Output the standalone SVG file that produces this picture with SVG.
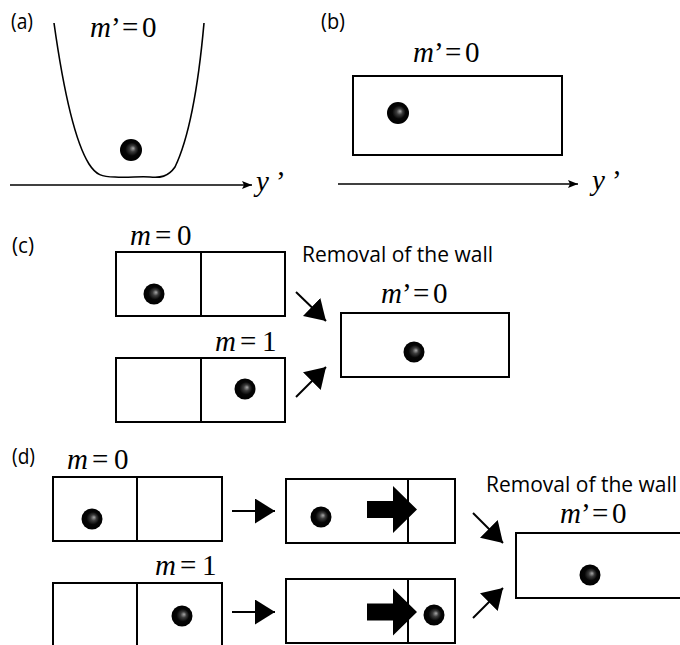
<svg xmlns="http://www.w3.org/2000/svg" width="680" height="645" viewBox="0 0 680 645">
<style>
.lbl{font-family:"Open Sans","Liberation Sans",sans-serif;font-size:21px;fill:#000}
.cap{font-family:"Open Sans","Liberation Sans",sans-serif;font-size:22px;fill:#000}
.cap2{font-family:"Open Sans","Liberation Sans",sans-serif;font-size:21px;fill:#000}
.math{font-family:"Liberation Serif","Times New Roman",serif;font-size:29px;fill:#000}
.it{font-style:italic}
.box{fill:none;stroke:#000;stroke-width:2}
.wall{stroke:#000;stroke-width:2}
.axis{stroke:#000;stroke-width:1.3;fill:none}
.conn{stroke:#000;stroke-width:2;fill:none}
.curve{stroke:#000;stroke-width:1.6;fill:none}
</style>
<defs>
<radialGradient id="ballg" cx="0.5" cy="0.5" r="0.5" fx="0.6" fy="0.42">
<stop offset="0" stop-color="#a8a8a8"/>
<stop offset="0.28" stop-color="#3c3c3c"/>
<stop offset="0.6" stop-color="#060606"/>
<stop offset="1" stop-color="#000"/>
</radialGradient>
<marker id="axhead" markerUnits="userSpaceOnUse" markerWidth="12" markerHeight="10" refX="10" refY="4" orient="auto">
<path d="M0,0 L10,4 L0,8 L2,4 z" fill="#000"/>
</marker>
<marker id="head" markerUnits="userSpaceOnUse" markerWidth="22" markerHeight="26" refX="20" refY="12.5" orient="auto">
<path d="M0,0 L20,12.5 L0,25 z" fill="#000"/>
</marker>
<symbol id="fat" overflow="visible">
<polygon points="367,501 393,501 393,486 417,509.5 393,533 393,518 367,518" fill="#000"/>
</symbol>
</defs>

<g id="panel-a">
<text class="lbl" x="11" y="29" textLength="22" lengthAdjust="spacingAndGlyphs">(a)</text>
<text class="math" y="37"><tspan class="it" x="90">m</tspan><tspan x="111">’</tspan><tspan x="122">=</tspan><tspan x="142">0</tspan></text>
<path class="curve" d="M54,23 C62,80 74,140 89,164 C96,175 102,177 115,177 C128,178 140,176 150,177 C160,178 168,177 175,167 C188,140 198,90 204,23"/>
<circle cx="131" cy="150" r="11" fill="url(#ballg)"/>
<line class="axis" x1="10" y1="185" x2="252" y2="185" marker-end="url(#axhead)"/>
<text class="math" y="191"><tspan class="it" x="256">y</tspan><tspan x="276">’</tspan></text>
</g>

<g id="panel-b">
<text class="lbl" x="321" y="29" textLength="24" lengthAdjust="spacingAndGlyphs">(b)</text>
<text class="math" y="62"><tspan class="it" x="413">m</tspan><tspan x="434">’</tspan><tspan x="445">=</tspan><tspan x="465">0</tspan></text>
<rect class="box" x="353" y="76" width="209" height="79"/>
<circle cx="398" cy="113" r="11" fill="url(#ballg)"/>
<line class="axis" x1="338" y1="184" x2="578" y2="184" marker-end="url(#axhead)"/>
<text class="math" y="190"><tspan class="it" x="592">y</tspan><tspan x="612">’</tspan></text>
</g>

<g id="panel-c">
<text class="lbl" x="12" y="253" textLength="22" lengthAdjust="spacingAndGlyphs">(c)</text>
<g id="c-m0">
<text class="math" y="244.5"><tspan class="it" x="130">m</tspan><tspan x="155">=</tspan><tspan x="177">0</tspan></text>
<rect class="box" x="116" y="252" width="169" height="64"/>
<line class="wall" x1="201" y1="252" x2="201" y2="316"/>
<circle cx="154" cy="294" r="10.5" fill="url(#ballg)"/>
</g>
<g id="c-m1">
<text class="math" y="351"><tspan class="it" x="215">m</tspan><tspan x="240">=</tspan><tspan x="262">1</tspan></text>
<rect class="box" x="116" y="358" width="169" height="64"/>
<line class="wall" x1="201" y1="358" x2="201" y2="422"/>
<circle cx="245" cy="389" r="10.5" fill="url(#ballg)"/>
</g>
<text class="cap" x="302" y="262" textLength="191" lengthAdjust="spacingAndGlyphs">Removal of the wall</text>
<g id="c-out">
<text class="math" y="303"><tspan class="it" x="381">m</tspan><tspan x="402">’</tspan><tspan x="413">=</tspan><tspan x="433">0</tspan></text>
<rect class="box" x="341" y="313" width="168" height="64"/>
<circle cx="414" cy="352" r="10.5" fill="url(#ballg)"/>
</g>
</g>

<g id="panel-d">
<text class="lbl" x="12" y="464" textLength="23" lengthAdjust="spacingAndGlyphs">(d)</text>
<g id="d-m0">
<text class="math" y="469"><tspan class="it" x="67">m</tspan><tspan x="92">=</tspan><tspan x="114">0</tspan></text>
<rect class="box" x="53" y="477" width="169" height="64"/>
<line class="wall" x1="137" y1="477" x2="137" y2="541"/>
<circle cx="92" cy="519" r="10.5" fill="url(#ballg)"/>
</g>
<g id="d-m1">
<text class="math" y="575"><tspan class="it" x="155">m</tspan><tspan x="180">=</tspan><tspan x="202">1</tspan></text>
<rect class="box" x="53" y="583" width="169" height="66"/>
<line class="wall" x1="137" y1="583" x2="137" y2="649"/>
<circle cx="182" cy="616" r="10.5" fill="url(#ballg)"/>
</g>
<g id="d-mid0">
<rect class="box" x="286" y="479" width="169" height="64"/>
<line class="wall" x1="408" y1="479" x2="408" y2="543"/>
<circle cx="321" cy="517" r="10.5" fill="url(#ballg)"/>
<use href="#fat"/>
</g>
<g id="d-mid1">
<rect class="box" x="286" y="579" width="169" height="64"/>
<line class="wall" x1="408" y1="579" x2="408" y2="643"/>
<circle cx="434" cy="615" r="10.5" fill="url(#ballg)"/>
<use href="#fat" transform="translate(0,102.5)"/>
</g>
<text class="cap2" x="486" y="492">Removal of the wall</text>
<g id="d-out">
<text class="math" y="523"><tspan class="it" x="560">m</tspan><tspan x="581">’</tspan><tspan x="592">=</tspan><tspan x="612">0</tspan></text>
<rect class="box" x="516" y="533" width="200" height="65"/>
<circle cx="590" cy="575" r="10.5" fill="url(#ballg)"/>
</g>
</g>

<g id="connectors">
<line class="conn" x1="296" y1="292" x2="326" y2="321" marker-end="url(#head)"/>
<line class="conn" x1="296" y1="397" x2="326" y2="367" marker-end="url(#head)"/>
<line class="conn" x1="232" y1="511" x2="275" y2="511" marker-end="url(#head)"/>
<line class="conn" x1="232" y1="612" x2="275" y2="612" marker-end="url(#head)"/>
<line class="conn" x1="473" y1="513" x2="503" y2="543" marker-end="url(#head)"/>
<line class="conn" x1="473" y1="618" x2="503" y2="588" marker-end="url(#head)"/>
</g>
</svg>
